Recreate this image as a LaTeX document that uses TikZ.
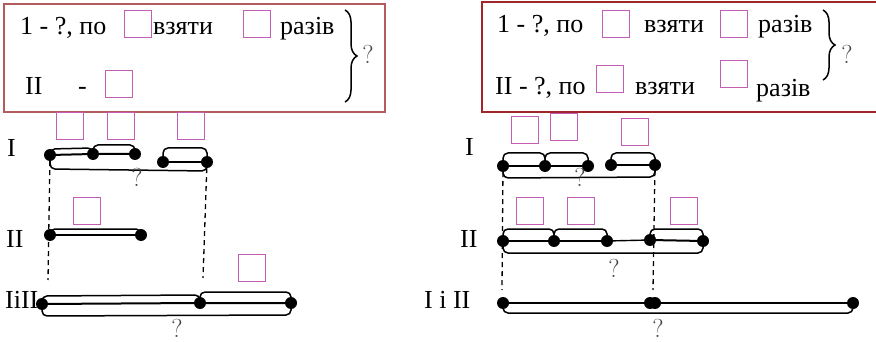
\documentclass[tikz,border=0pt]{standalone}
\usepackage{fontspec}
\setmainfont{Liberation Serif}
\newfontfamily\qfont{Latin Modern Roman}
\usetikzlibrary{arrows.meta,positioning,calc,decorations.pathreplacing}
\definecolor{bxLeft} {HTML}{B35C60}
\definecolor{bxRight}{HTML}{A0262A}
\definecolor{bxSq}   {HTML}{C45DB4}
\definecolor{qGrey}  {HTML}{444444}
\tikzset{
  pt/.style={circle,fill=black,inner sep=0,minimum size=12pt},
  sq/.style={draw=bxSq,line width=1.3pt,minimum size=27pt,inner sep=0,anchor=north west},
  txt/.style={anchor=base west,inner sep=0,font=\fontsize{26}{30}\selectfont},
  qm/.style={anchor=base,inner sep=0,text=qGrey,font=\qfont\fontsize{26}{30}\selectfont},
  seg/.style={line width=2pt},
  segthin/.style={line width=1.4pt},
  segcap/.style={line width=1.5pt,rounded corners=5pt},
  boxbr/.style={decorate,decoration={brace,amplitude=12pt},line width=1.5pt},
  guide/.style={line width=1.3pt,dash pattern=on 5pt off 4pt}
}
\begin{document}
\begin{tikzpicture}[x=1pt,y=-1pt]
  \useasboundingbox (0,0) rectangle (876,342);

  % left condition box
  \draw[bxLeft,line width=1.6pt] (4,4) rectangle (385,112);
  \node[txt] (l1a) at (20,35) {1 - ?, по};
  \node[sq]  (ls1) at (124,10) {};
  \node[txt] (l1b) at (153,35) {взяти};
  \node[sq]  (ls2) at (243,10) {};
  \node[txt] (l1c) at (280,35) {разів};
  \node[txt] (l2a) at (25,95) {II};
  \node[txt] (l2b) at (78,95) {-};
  \node[sq]  (ls3) at (105,70) {};
  \coordinate (lbTop) at (345,10);
  \coordinate (lbBot) at (345,102);
  \draw[boxbr] (lbTop) -- (lbBot);
  \node[qm] (lq) at (368,64) {?};

  % right condition box
  \draw[bxRight,line width=1.6pt] (876,2) -- (482,2) -- (482,112) -- (876,112);
  \node[txt] (r1a) at (497,33) {1 - ?, по};
  \node[sq]  (rs1) at (602,10) {};
  \node[txt] (r1b) at (644,33) {взяти};
  \node[sq]  (rs2) at (720,10) {};
  \node[txt] (r1c) at (758,33) {разів};
  \node[txt] (r2a) at (495,95) {II - ?, по};
  \node[sq]  (rs3) at (596,65) {};
  \node[txt] (r2b) at (635,95) {взяти};
  \node[sq]  (rs4) at (720,60) {};
  \node[txt] (r2c) at (756,97) {разів};
  \coordinate (rbTop) at (823,10);
  \coordinate (rbBot) at (823,80);
  \draw[boxbr] (rbTop) -- (rbBot);
  \node[qm] (rq) at (847,64) {?};

  % left scheme
  \node[txt] (lI)   at (7,157)  {I};
  \node[txt] (lII)  at (6,247)  {II};
  \node[txt] (lIII) at (5,308)  {IiII};

  \node[pt] (a1) at (50,155) {};
  \node[pt] (a2) at (93,154) {};
  \node[pt] (a3) at (135,154) {};
  \node[pt] (a4) at (163,162) {};
  \node[pt] (a5) at (207,162) {};
  \draw[seg] (a1) -- (a2) -- (a3);
  \draw[seg] (a4) -- (a5);
  \draw[segcap] (a1.center) -- ++(0,-6) -- ($(a2.center)+(0,-6)$) -- (a2.center);
  \draw[segcap] (a2.center) -- ++(0,-9) -- ($(a3.center)+(0,-9)$) -- (a3.center);
  \draw[segcap] (a4.center) -- ++(0,-14) -- ($(a5.center)+(0,-14)$) -- (a5.center);
  \draw[segcap] (a1.center) -- ++(0,14) -- ($(a5.center)+(0,9)$) -- (a5.center);
  \node[qm] (aq) at (137,186) {?};
  \node[sq] (as1) at (56,112) {};
  \node[sq] (as2) at (107,112) {};
  \node[sq] (as3) at (177,112) {};

  \node[pt] (b1) at (50,235) {};
  \node[pt] (b2) at (141,235) {};
  \draw[seg] (b1) -- (b2);
  \draw[segcap] (b1.center) -- ++(0,-6) -- ($(b2.center)+(0,-6)$) -- (b2.center);
  \node[sq] (bs1) at (73,197) {};

  \node[pt] (c1) at (42,304) {};
  \node[pt] (c2) at (200,303) {};
  \node[pt] (c3) at (291,303) {};
  \draw[seg] (c1) -- (c2) -- (c3);
  \draw[segcap] (c1.center) -- ++(0,-8) -- ($(c2.center)+(0,-8)$) -- (c2.center);
  \draw[segcap] (c2.center) -- ++(0,-11) -- ($(c3.center)+(0,-11)$) -- (c3.center);
  \draw[segcap] (c1.center) -- ++(0,12) -- ($(c3.center)+(0,12)$) -- (c3.center);
  \node[qm] (cq) at (177,337) {?};
  \node[sq] (cs1) at (238,254) {};

  \coordinate (lg1) at (48,280);
  \coordinate (lg2) at (203,278);
  \draw[guide] (a1) -- (lg1);
  \draw[guide] (a5) -- (lg2);

  % right scheme
  \node[txt] (rI)   at (465,156) {I};
  \node[txt] (rII)  at (460,247) {II};
  \node[txt] (rIII) at (424,308) {I i II};

  \node[pt] (d1) at (503,166) {};
  \node[pt] (d2) at (545,166) {};
  \node[pt] (d3) at (588,166) {};
  \node[pt] (d4) at (611,165) {};
  \node[pt] (d5) at (655,165) {};
  \draw[seg] (d1) -- (d2) -- (d3);
  \draw[seg] (d4) -- (d5);
  \draw[segcap] (d1.center) -- ++(0,-13) -- ($(d2.center)+(0,-13)$) -- (d2.center);
  \draw[segcap] (d2.center) -- ++(0,-13) -- ($(d3.center)+(0,-13)$) -- (d3.center);
  \draw[segcap] (d4.center) -- ++(0,-12) -- ($(d5.center)+(0,-12)$) -- (d5.center);
  \draw[segcap] (d1.center) -- ++(0,12) -- ($(d5.center)+(0,12)$) -- (d5.center);
  \node[qm] (dq) at (580,186) {?};
  \node[sq] (ds1) at (511,116) {};
  \node[sq] (ds2) at (550,113) {};
  \node[sq] (ds3) at (621,118) {};

  \node[pt] (e1) at (503,241) {};
  \node[pt] (e2) at (554,241) {};
  \node[pt] (e3) at (607,241) {};
  \node[pt] (e4) at (650,240) {};
  \node[pt] (e5) at (703,241) {};
  \draw[seg] (e1) -- (e2) -- (e3);
  \draw[segthin] (e3) -- (e4);
  \draw[seg] (e4) -- (e5);
  \draw[segcap] (e1.center) -- ++(0,-12) -- ($(e2.center)+(0,-12)$) -- (e2.center);
  \draw[segcap] (e2.center) -- ++(0,-12) -- ($(e3.center)+(0,-12)$) -- (e3.center);
  \draw[segcap] (e4.center) -- ++(0,-11) -- ($(e5.center)+(0,-12)$) -- (e5.center);
  \draw[segcap] (e1.center) -- ++(0,12) -- ($(e5.center)+(0,12)$) -- (e5.center);
  \node[qm] (eq) at (614,277) {?};
  \node[sq] (es1) at (516,197) {};
  \node[sq] (es2) at (567,197) {};
  \node[sq] (es3) at (670,197) {};

  \node[pt] (f1) at (503,303) {};
  \node[pt] (f2) at (650,303) {};
  \node[pt] (f3) at (655,303) {};
  \node[pt] (f4) at (853,303) {};
  \draw[segthin] (f1) -- (f2);
  \draw[segthin] (f3) -- (f4);
  \draw[segcap] (f1.center) -- ++(0,10) -- ($(f4.center)+(0,10)$) -- (f4.center);
  \node[qm] (fq) at (658,337) {?};

  \coordinate (rg1) at (502,290);
  \coordinate (rg2) at (653,290);
  \draw[guide] (d1) -- (rg1);
  \draw[guide] (d5) -- (rg2);
\end{tikzpicture}
\end{document}
